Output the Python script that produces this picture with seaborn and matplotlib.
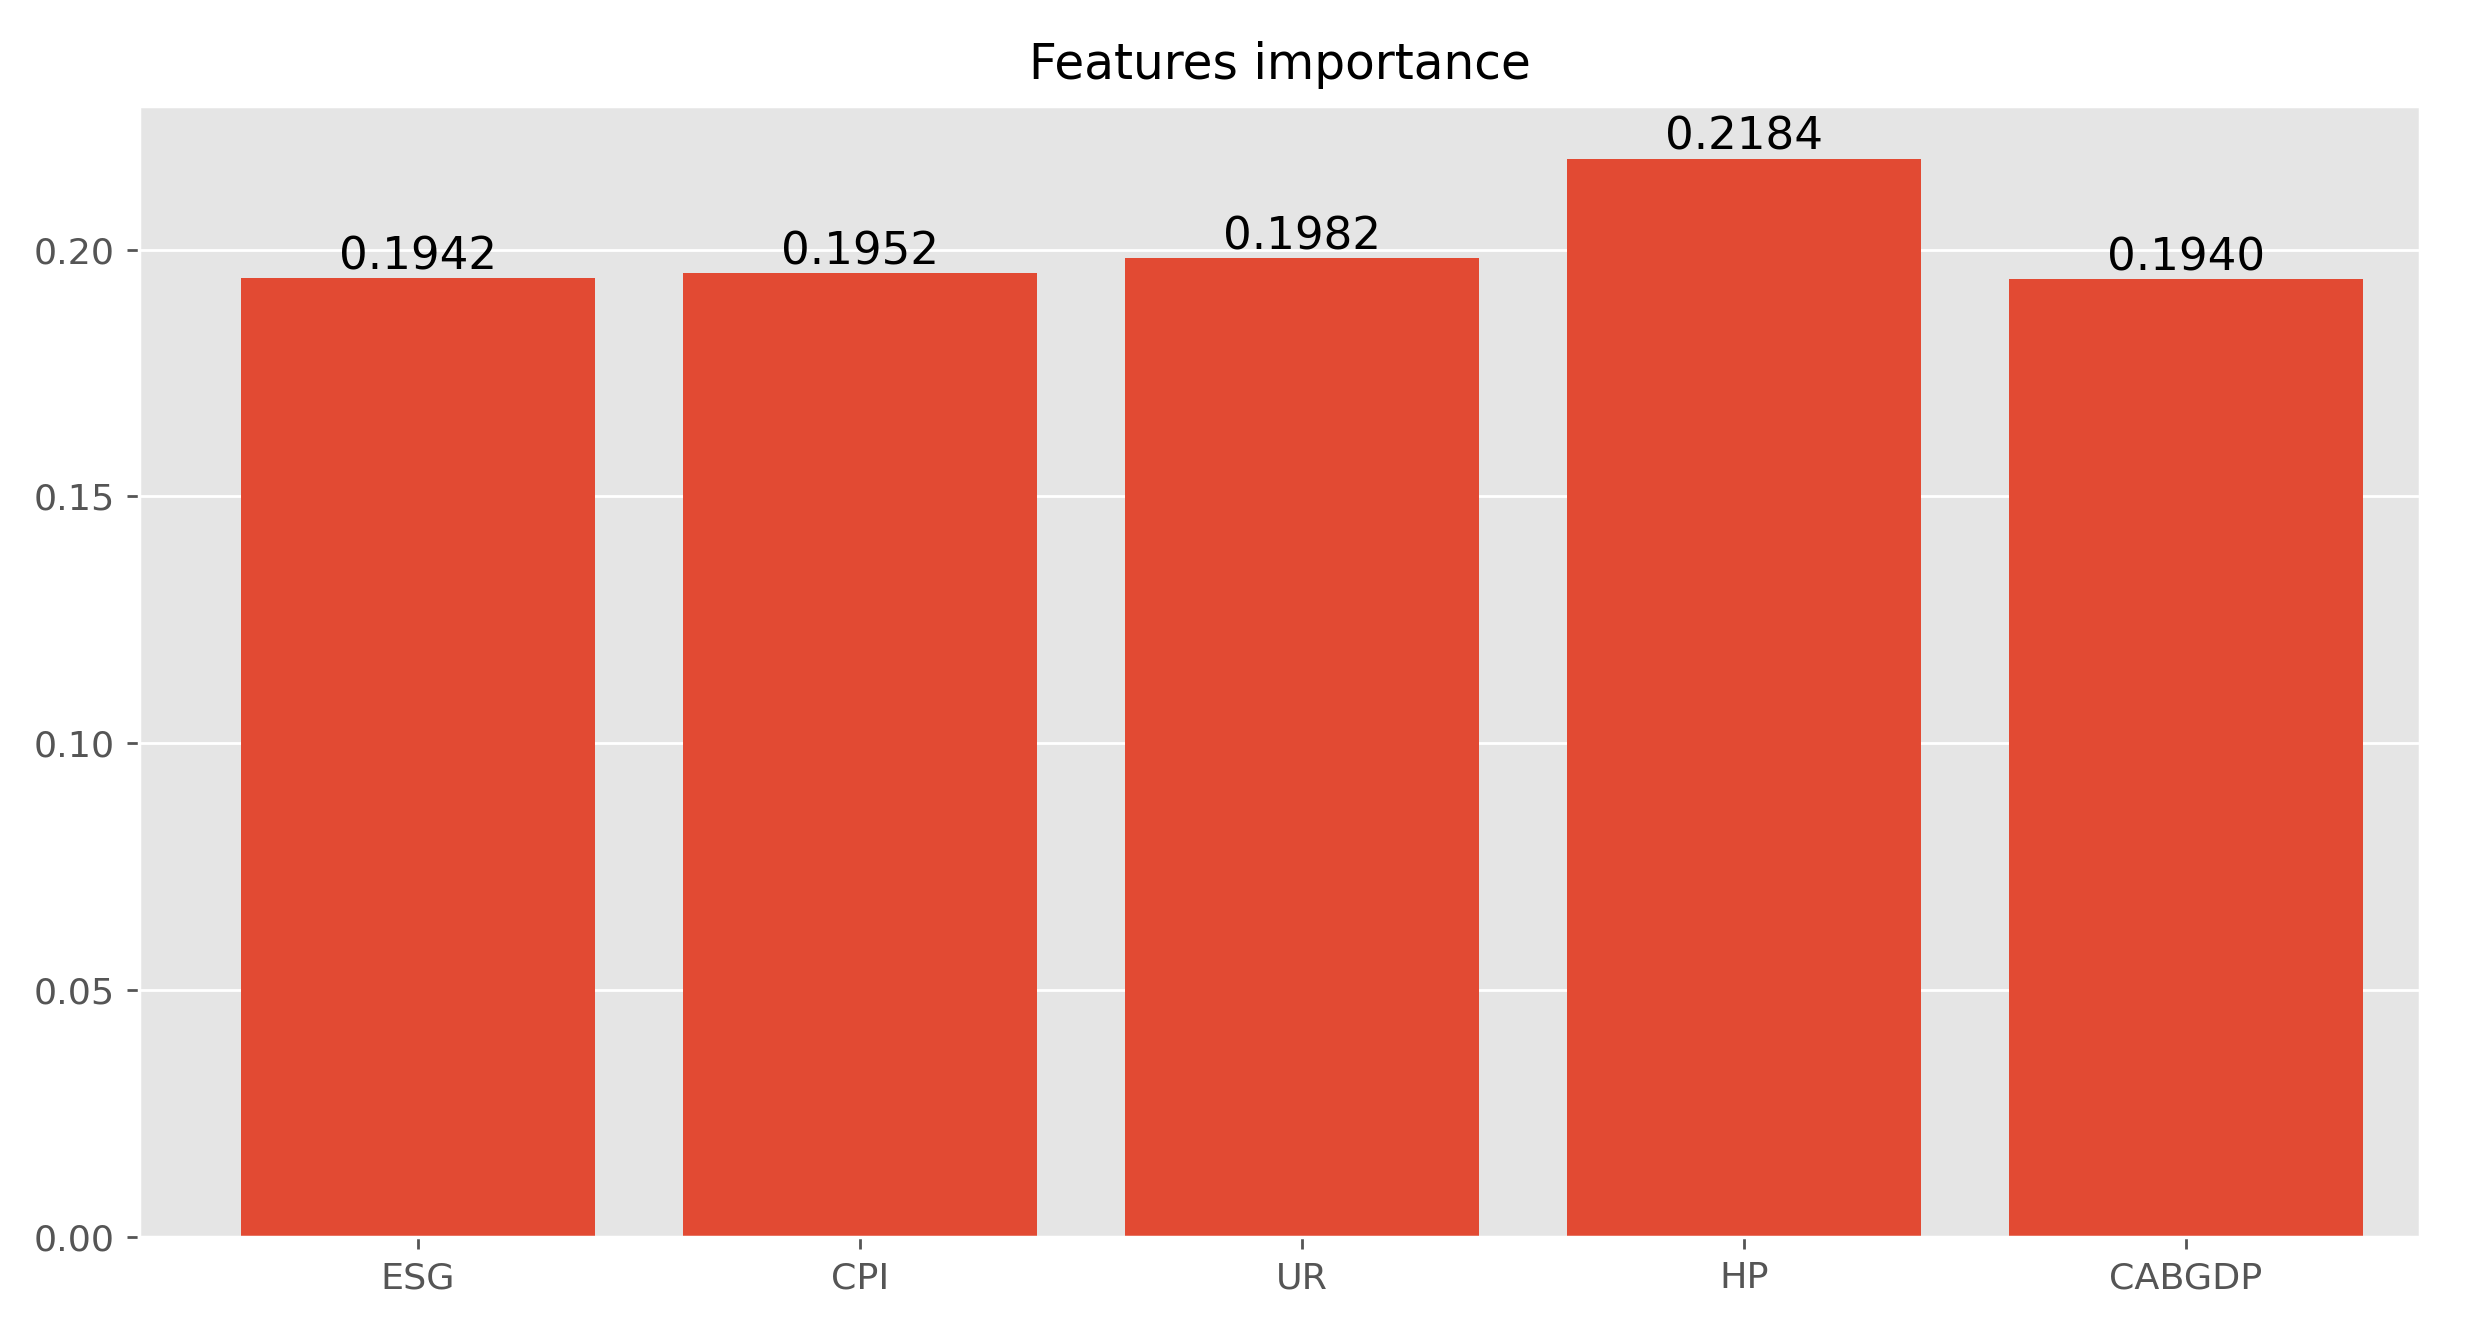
import matplotlib
matplotlib.use("Agg")
import matplotlib.pyplot as plt
import seaborn as sns
import pandas as pd

features = ["ESG", "CPI", "UR", "HP", "CABGDP"]
importance = [0.1942, 0.1952, 0.1982, 0.2184, 0.1940]

plt.style.use("ggplot")
fig = plt.figure(figsize=(9.94, 5.32), dpi=250)
ax = fig.add_axes([0.056, 0.07, 0.918, 0.85])
df = pd.DataFrame({"feature": features, "importance": importance})
sns.barplot(data=df, x="feature", y="importance", color="#E24A33", saturation=1, width=0.8, ax=ax)
for i, v in enumerate(importance):
    ax.text(i, v, f"{v:.4f}", ha="center", va="bottom", fontsize=13, color="black")
ax.set_xlim(-0.63, 4.53)
ax.set_ylim(0, 0.229)
ax.set_yticks([0, 0.05, 0.10, 0.15, 0.20])
ax.set_xlabel("")
ax.set_ylabel("")
ax.set_title("Features importance", fontsize=14, color="black", pad=8)
ax.tick_params(labelsize=10.5, colors="#555555")
fig.savefig("out.png", dpi=250)
